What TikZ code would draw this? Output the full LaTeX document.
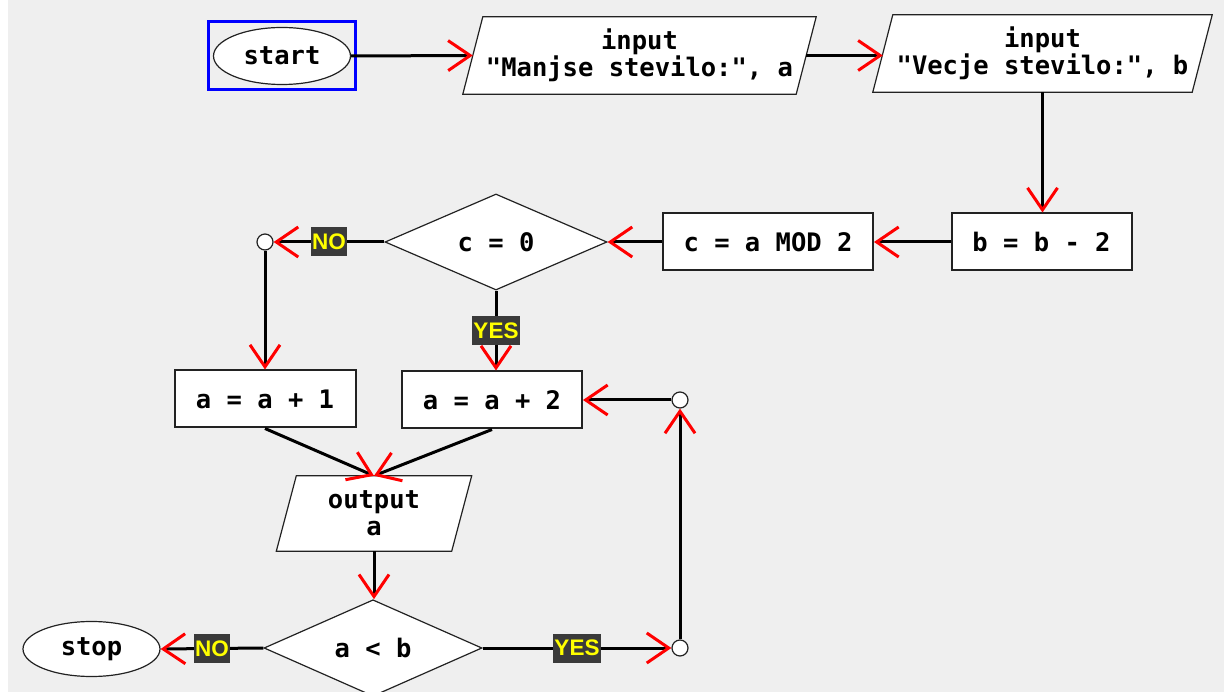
\documentclass[tikz,border=0pt]{standalone}
\usepackage{fontspec}
\setmonofont{DejaVu Sans Mono}
\setsansfont{Liberation Sans}
\usetikzlibrary{shapes.geometric,arrows.meta,calc}
\pgfdeclarelayer{background}
\pgfsetlayers{background,main}
\definecolor{bggray}{HTML}{EFEFEF}
\definecolor{lblgray}{HTML}{3A3A3A}
\definecolor{lblyellow}{HTML}{FFFF00}
\definecolor{edgec}{HTML}{222222}
\begin{document}
\begin{tikzpicture}[x=1pt,y=-1pt,
  every node/.style={font=\ttfamily\bfseries\fontsize{25.5}{27}\selectfont, align=center},
  term/.style={ellipse, draw=edgec, line width=1.2pt, fill=white, minimum width=137pt, minimum height=57pt, inner sep=0pt},
  proc/.style={rectangle, draw=edgec, line width=2pt, fill=white, minimum height=57pt, inner sep=0pt},
  io/.style={rectangle, inner sep=0pt, minimum height=77pt},
  dec/.style={diamond, draw=edgec, line width=1.2pt, fill=white, inner sep=0pt},
  junc/.style={circle, draw=edgec, line width=1.2pt, fill=white, minimum size=16pt, inner sep=0pt},
  sel/.style={rectangle, draw=blue, line width=3pt, minimum width=147pt, minimum height=68pt, inner sep=0pt},
  paraline/.style={draw=edgec, line width=1.2pt, fill=white},
  flow/.style={line width=3pt, arrows={-{Straight Barb[length=22pt,width=30pt,line width=3pt,color=red]}}},
  lbl/.style={fill=lblgray, text=lblyellow, font=\sffamily\bfseries\fontsize{22.5}{24}\selectfont, inner sep=1.5pt, minimum height=29pt}
]
\useasboundingbox (0,0) rectangle (1224,692);
\begin{pgfonlayer}{background}
  \fill[white] (0,0) rectangle (1224,692);
  \fill[bggray] (8,0) rectangle (1224,692);
\end{pgfonlayer}

% nodes
\node[term] (start) at (282,56) {start};
\node[sel] (selbox) at (282,56) {};
\node[io, minimum width=333pt] (in1) at (639.5,55.5) {input\\"Manjse stevilo:", a};
\node[io, minimum width=319pt] (in2) at (1042.5,53.5) {input\\"Vecje stevilo:", b};
\node[proc, minimum width=180pt] (bsub) at (1041.5,242) {b = b - 2};
\node[proc, minimum width=210pt] (cmod) at (768,242) {c = a MOD 2};
\node[dec, minimum width=222pt, minimum height=96pt] (d1) at (496,242) {c = 0};
\node[junc] (c1) at (265,242) {};
\node[proc, minimum width=181pt] (a1) at (265,399) {a = a + 1};
\node[proc, minimum width=180pt] (a2) at (492,400) {a = a + 2};
\node[junc] (c2) at (680,400) {};
\node[io, minimum width=175pt, minimum height=75pt] (out) at (374,513.5) {output\\a};
\node[dec, minimum width=218pt, minimum height=96pt] (d2) at (373,648) {a < b};
\node[term, minimum height=55pt] (stop) at (91.5,649) {stop};
\node[junc] (c3) at (680,648) {};

% parallelograms behind the io texts
\begin{pgfonlayer}{background}
  \foreach \n in {in1,in2,out}{
    \path[paraline] ([xshift=10pt]\n.north west) -- ([xshift=10pt]\n.north east)
      -- ([xshift=-10pt]\n.south east) -- ([xshift=-10pt]\n.south west) -- cycle;
  }
\end{pgfonlayer}

% connectors
\draw[flow] (start.east) -- (in1.west);
\draw[flow] (in1.east) -- (in1.east -| in2.west);
\draw[flow] (in2.south) -- (in2.south |- bsub.north);
\draw[flow] (bsub.west) -- (cmod.east);
\draw[flow] (cmod.west) -- (d1.east);
\draw[flow] (d1.west) -- node[lbl] {NO} (c1.east);
\draw[flow] (c1.south) -- (a1.north);
\draw[flow] (d1.south) -- node[lbl] {YES} (d1.south |- a2.north);
\draw[flow] (a1.south) -- (out.north);
\draw[flow] (a2.south) -- (out.north);
\draw[flow] (out.south) -- (out.south |- d2.north);
\draw[flow] (d2.west) -- node[lbl] {NO} (stop.east);
\draw[flow] (d2.east) -- node[lbl] {YES} (c3.west);
\draw[flow] (c3.north) -- (c2.south);
\draw[flow] (c2.west) -- (a2.east);
\end{tikzpicture}
\end{document}
